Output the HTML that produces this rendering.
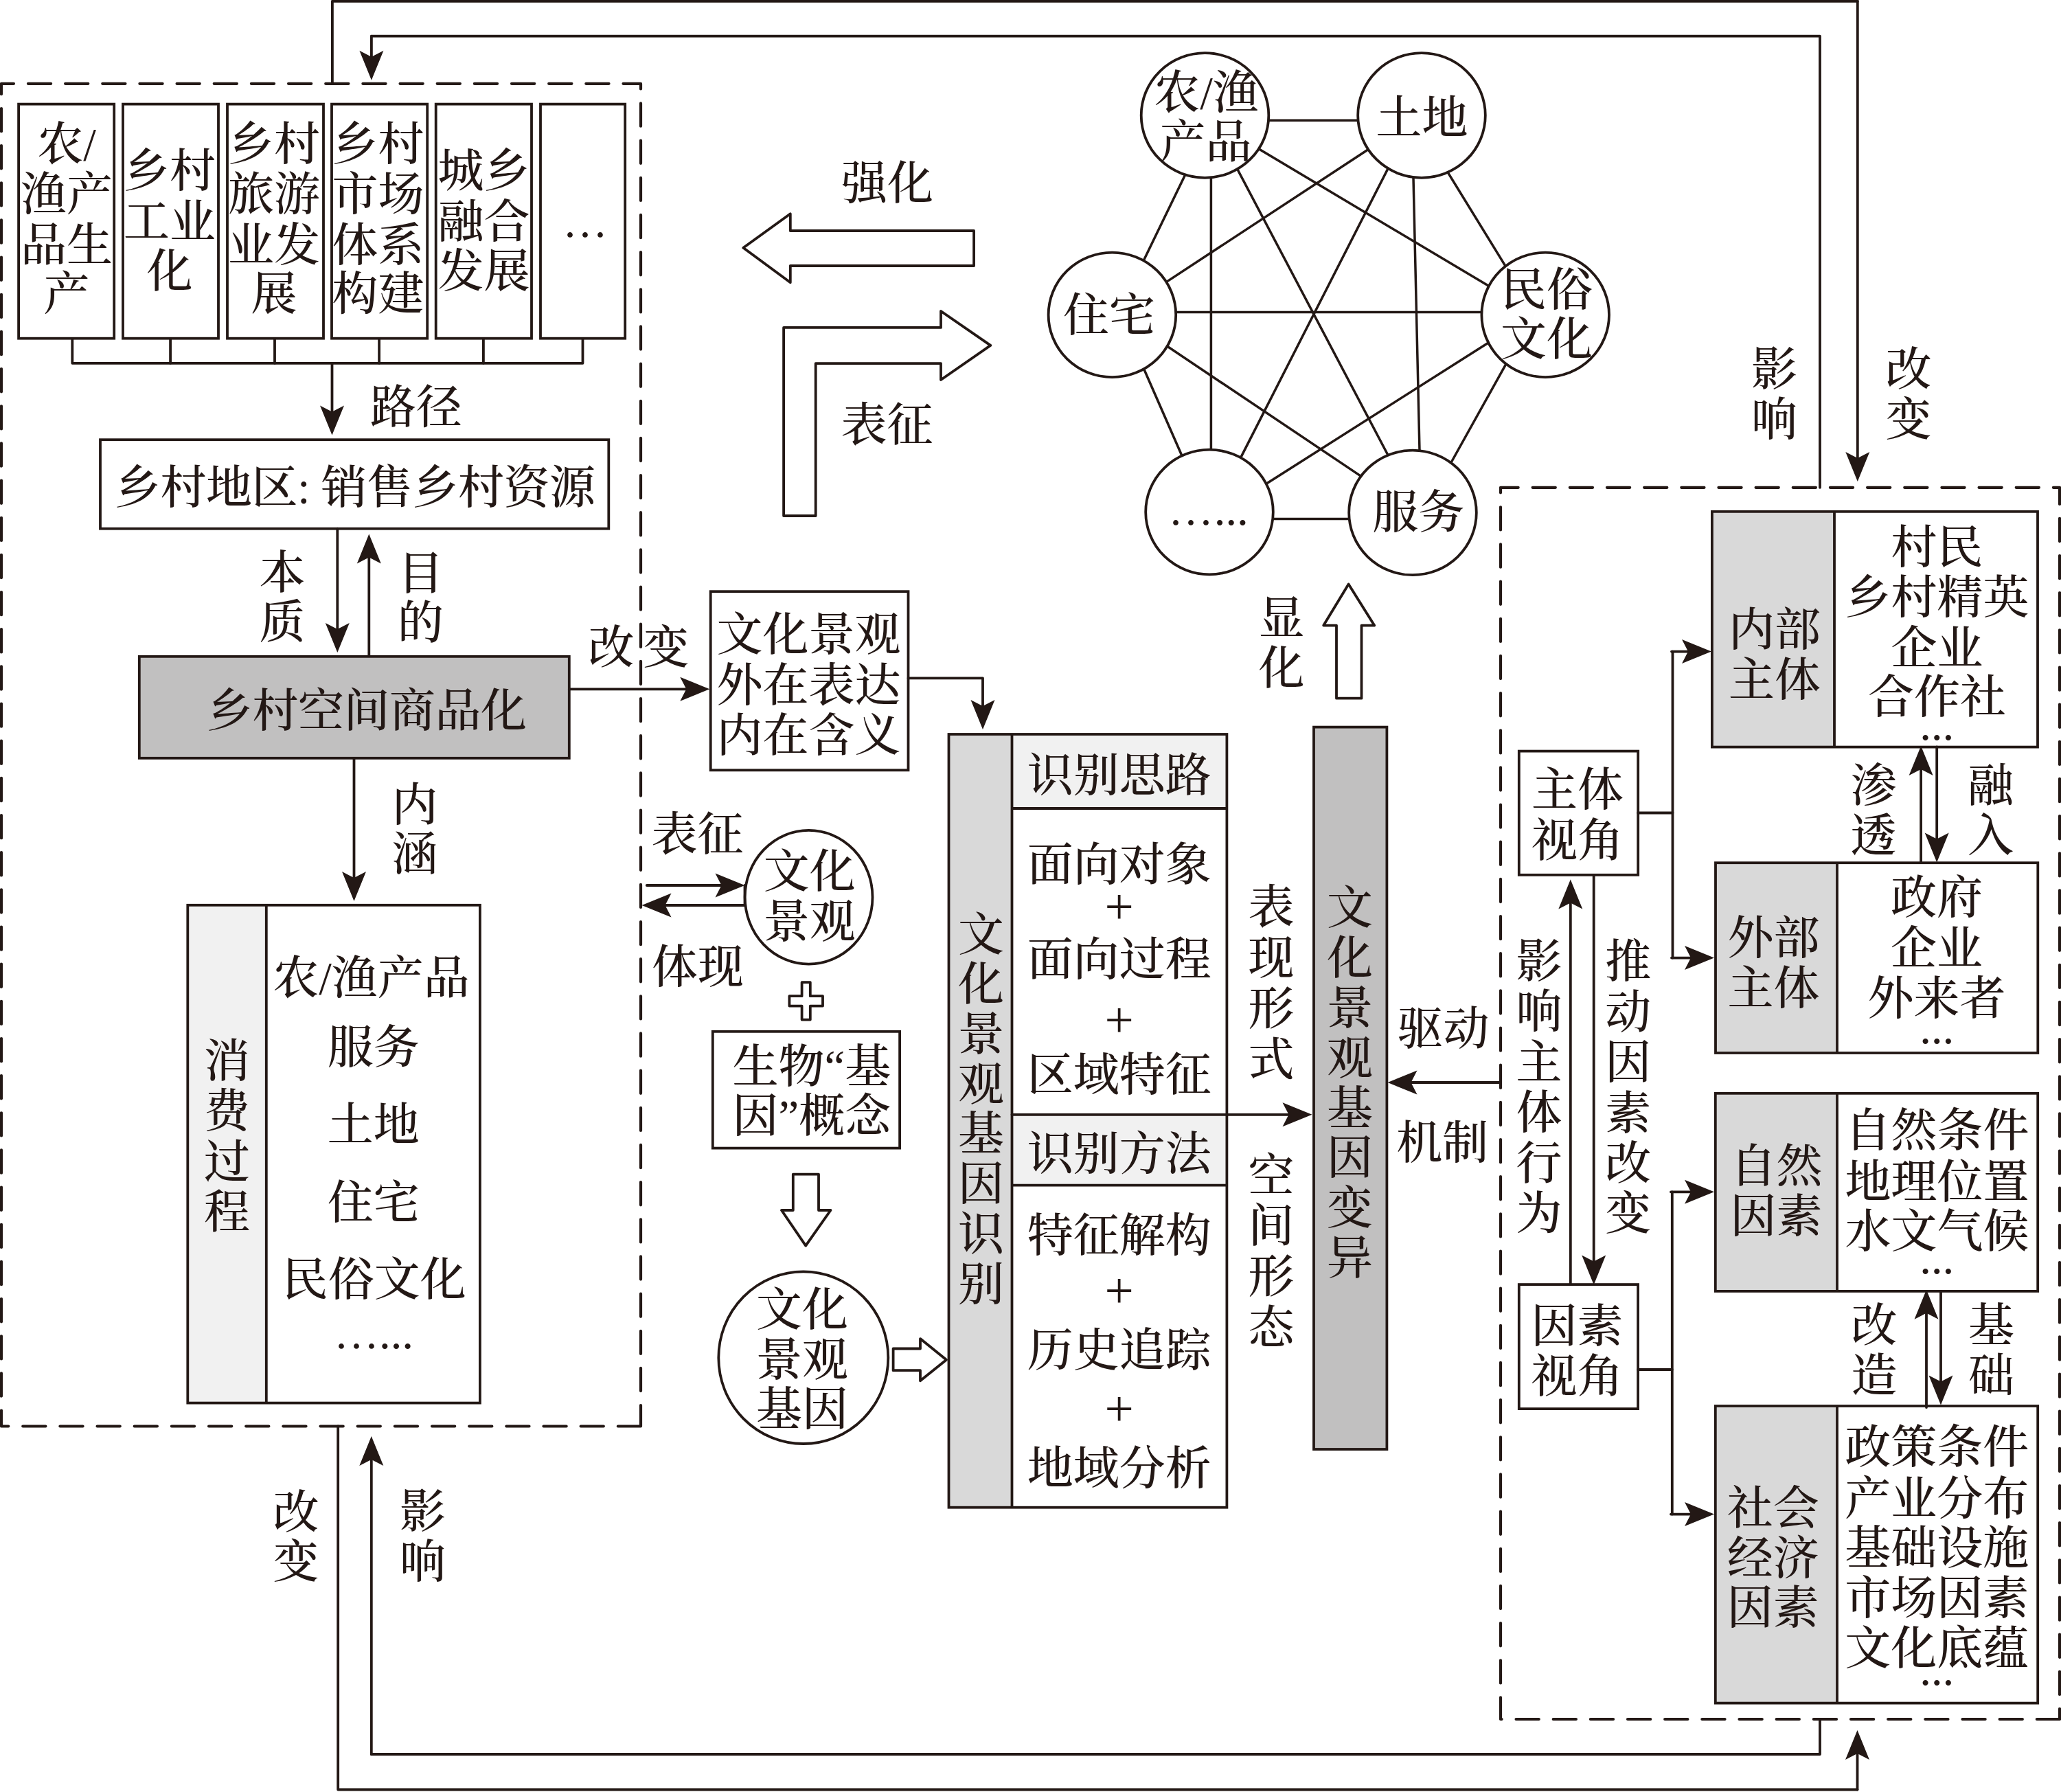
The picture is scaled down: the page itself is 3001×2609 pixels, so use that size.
<!DOCTYPE html>
<html lang="zh-CN"><head><meta charset="utf-8"><title>乡村空间商品化与文化景观基因</title>
<style>html,body{margin:0;padding:0;background:#fff}svg{display:block}text{font-family:"Liberation Serif","Noto Serif CJK SC",serif;fill:#231815;font-weight:500}.d1{font-family:"Noto Serif CJK SC",serif;font-weight:700}.d2{font-family:"Noto Sans CJK SC",sans-serif;font-weight:700}</style></head>
<body><svg width="3001" height="2609" viewBox="0 0 3001 2609">
<rect width="3001" height="2609" fill="#fff"/>
<path d="M933,2076.5 L2,2076.5 L2,121.8 L933,121.8 Z" fill="none" stroke="#231815" stroke-width="4.2" stroke-linecap="round" stroke-linejoin="round" stroke-dasharray="33.2 20.96"/>
<path d="M2999,2503 L2185,2503 L2185,709.8 L2999,709.8 Z" fill="none" stroke="#231815" stroke-width="4.2" stroke-linecap="round" stroke-linejoin="round" stroke-dasharray="33.2 20.96"/>
<polyline points="483.9,121.8 483.9,1.8 2704.8,1.8" fill="none" stroke="#231815" stroke-width="3.8" stroke-linecap="round" stroke-linejoin="round" />
<polyline points="2704.8,1.8 2704.8,667" fill="none" stroke="#231815" stroke-width="3.8" stroke-linecap="round" stroke-linejoin="round" />
<polygon points="2704.8,701 2687.3,658 2704.8,667 2722.3,658" fill="#231815"/>
<polyline points="2650,709.8 2650,52.7 540.9,52.7" fill="none" stroke="#231815" stroke-width="3.8" stroke-linecap="round" stroke-linejoin="round" />
<polyline points="540.9,52.7 540.9,82.8" fill="none" stroke="#231815" stroke-width="3.8" stroke-linecap="round" stroke-linejoin="round" />
<polygon points="540.9,116.8 523.4,73.8 540.9,82.8 558.4,73.8" fill="#231815"/>
<polyline points="492.2,2076.5 492.2,2605.5 2704.5,2605.5" fill="none" stroke="#231815" stroke-width="3.8" stroke-linecap="round" stroke-linejoin="round" />
<polyline points="2704.5,2605.5 2704.5,2553" fill="none" stroke="#231815" stroke-width="3.8" stroke-linecap="round" stroke-linejoin="round" />
<polygon points="2704.5,2519 2722,2562 2704.5,2553 2687,2562" fill="#231815"/>
<polyline points="2650,2503 2650,2554 540.8,2554" fill="none" stroke="#231815" stroke-width="3.8" stroke-linecap="round" stroke-linejoin="round" />
<polyline points="540.8,2554 540.8,2125" fill="none" stroke="#231815" stroke-width="3.8" stroke-linecap="round" stroke-linejoin="round" />
<polygon points="540.8,2091 558.3,2134 540.8,2125 523.3,2134" fill="#231815"/>
<rect x="27.1" y="151.6" width="139.1" height="341.1" fill="#fff" stroke="#231815" stroke-width="3.8"/>
<rect x="179" y="151.6" width="139" height="341.1" fill="#fff" stroke="#231815" stroke-width="3.8"/>
<rect x="331" y="151.6" width="140" height="341.1" fill="#fff" stroke="#231815" stroke-width="3.8"/>
<rect x="483" y="151.6" width="139.2" height="341.1" fill="#fff" stroke="#231815" stroke-width="3.8"/>
<rect x="634.7" y="151.6" width="139.3" height="341.1" fill="#fff" stroke="#231815" stroke-width="3.8"/>
<rect x="787" y="151.6" width="123.2" height="341.1" fill="#fff" stroke="#231815" stroke-width="3.8"/>
<polyline points="105.3,493 105.3,528.8 848.5,528.8 848.5,493" fill="none" stroke="#231815" stroke-width="3.8" stroke-linecap="round" stroke-linejoin="round" />
<polyline points="248.1,493 248.1,528.8" fill="none" stroke="#231815" stroke-width="3.8" stroke-linecap="round" stroke-linejoin="round" />
<polyline points="400,493 400,528.8" fill="none" stroke="#231815" stroke-width="3.8" stroke-linecap="round" stroke-linejoin="round" />
<polyline points="552.1,493 552.1,528.8" fill="none" stroke="#231815" stroke-width="3.8" stroke-linecap="round" stroke-linejoin="round" />
<polyline points="703.9,493 703.9,528.8" fill="none" stroke="#231815" stroke-width="3.8" stroke-linecap="round" stroke-linejoin="round" />
<polyline points="483.5,528.8 483.5,599.4" fill="none" stroke="#231815" stroke-width="3.8" stroke-linecap="round" stroke-linejoin="round" />
<polygon points="483.5,633.4 466,590.4 483.5,599.4 501,590.4" fill="#231815"/>
<text x="97" y="233.3" font-size="67" text-anchor="middle" >农/</text>
<text x="97" y="305.8" font-size="67" text-anchor="middle" >渔产</text>
<text x="97" y="379.8" font-size="67" text-anchor="middle" >品生</text>
<text x="97" y="450.8" font-size="67" text-anchor="middle" >产</text>
<text x="247" y="271.8" font-size="67" text-anchor="middle" >乡村</text>
<text x="247" y="345.8" font-size="67" text-anchor="middle" >工业</text>
<text x="247" y="417.8" font-size="67" text-anchor="middle" >化</text>
<text x="399" y="233.3" font-size="67" text-anchor="middle" >乡村</text>
<text x="399" y="305.8" font-size="67" text-anchor="middle" >旅游</text>
<text x="399" y="379.8" font-size="67" text-anchor="middle" >业发</text>
<text x="399" y="450.8" font-size="67" text-anchor="middle" >展</text>
<text x="550.5" y="233.3" font-size="67" text-anchor="middle" >乡村</text>
<text x="550.5" y="305.8" font-size="67" text-anchor="middle" >市场</text>
<text x="550.5" y="379.8" font-size="67" text-anchor="middle" >体系</text>
<text x="550.5" y="450.8" font-size="67" text-anchor="middle" >构建</text>
<text x="704.5" y="271.8" font-size="67" text-anchor="middle" >城乡</text>
<text x="704.5" y="345.8" font-size="67" text-anchor="middle" >融合</text>
<text x="704.5" y="417.8" font-size="67" text-anchor="middle" >发展</text>
<text x="852.1" y="367.4" font-size="66" text-anchor="middle" class="d1">…</text>
<text x="606.1" y="616" font-size="67" text-anchor="middle" >路径</text>
<rect x="146" y="640.2" width="740.3" height="129.5" fill="#fff" stroke="#231815" stroke-width="3.8"/>
<text x="517" y="733.3" font-size="67" text-anchor="middle" textLength="700" lengthAdjust="spacing" >乡村地区: 销售乡村资源</text>
<polyline points="491.3,769.7 491.3,916" fill="none" stroke="#231815" stroke-width="3.8" stroke-linecap="round" stroke-linejoin="round" />
<polygon points="491.3,950 473.8,907 491.3,916 508.8,907" fill="#231815"/>
<polyline points="537.3,956 537.3,811.5" fill="none" stroke="#231815" stroke-width="3.8" stroke-linecap="round" stroke-linejoin="round" />
<polygon points="537.3,777.5 554.8,820.5 537.3,811.5 519.8,820.5" fill="#231815"/>
<text font-size="67" text-anchor="middle"><tspan x="411" y="857.3">本</tspan><tspan x="411" y="929.3">质</tspan></text>
<text font-size="67" text-anchor="middle"><tspan x="612.5" y="857.8">目</tspan><tspan x="612.5" y="929.8">的</tspan></text>
<rect x="202.8" y="955.8" width="626" height="148" fill="#c1c0c0" stroke="#231815" stroke-width="3.8"/>
<text x="534" y="1057.8" font-size="67" text-anchor="middle" textLength="466" lengthAdjust="spacing" >乡村空间商品化</text>
<polyline points="829,1003.3 999.3,1003.3" fill="none" stroke="#231815" stroke-width="3.8" stroke-linecap="round" stroke-linejoin="round" />
<polygon points="1033.3,1003.3 990.3,1020.8 999.3,1003.3 990.3,985.8" fill="#231815"/>
<text font-size="67" text-anchor="middle"><tspan x="890" y="965.8">改</tspan><tspan x="970" y="965.8">变</tspan></text>
<polyline points="515.5,1104 515.5,1278" fill="none" stroke="#231815" stroke-width="3.8" stroke-linecap="round" stroke-linejoin="round" />
<polygon points="515.5,1312 498,1269 515.5,1278 533,1269" fill="#231815"/>
<text font-size="67" text-anchor="middle"><tspan x="604" y="1195.3">内</tspan><tspan x="604" y="1267.3">涵</tspan></text>
<rect x="273.3" y="1317.8" width="425.6" height="724.8" fill="#fff"/>
<rect x="273.3" y="1317.8" width="114.5" height="724.8" fill="#f1f1f1"/>
<rect x="273.3" y="1317.8" width="425.6" height="724.8" fill="none" stroke="#231815" stroke-width="3.8"/>
<polyline points="387.8,1317.8 387.8,2042.6" fill="none" stroke="#231815" stroke-width="3.8" stroke-linecap="butt" stroke-linejoin="round" />
<text font-size="67" text-anchor="middle"><tspan x="330.6" y="1567.5">消</tspan><tspan x="330.6" y="1641">费</tspan><tspan x="330.6" y="1714.5">过</tspan><tspan x="330.6" y="1788">程</tspan></text>
<text x="540.5" y="1446.8" font-size="67" text-anchor="middle" >农/渔产品</text>
<text x="543.7" y="1548.4" font-size="67" text-anchor="middle" >服务</text>
<text x="543.7" y="1660.8" font-size="67" text-anchor="middle" >土地</text>
<text x="543.7" y="1774.2" font-size="67" text-anchor="middle" >住宅</text>
<text x="544.7" y="1885.6" font-size="67" text-anchor="middle" >民俗文化</text>
<text text-anchor="middle"><tspan class="d1" font-size="66" x="518.9" y="1985.1">…</tspan><tspan class="d2" font-size="50" x="577" y="1979">…</tspan></text>
<text font-size="67" text-anchor="middle"><tspan x="431" y="2224.6">改</tspan><tspan x="431" y="2297.1">变</tspan></text>
<text font-size="67" text-anchor="middle"><tspan x="615.4" y="2224.4">影</tspan><tspan x="615.4" y="2296.8">响</tspan></text>
<rect x="1034.7" y="861.2" width="287.8" height="260.1" fill="#fff" stroke="#231815" stroke-width="3.8"/>
<text x="1177.4" y="947.3" font-size="67" text-anchor="middle" >文化景观</text>
<text x="1177.4" y="1020.7" font-size="67" text-anchor="middle" >外在表达</text>
<text x="1177.4" y="1093.5" font-size="67" text-anchor="middle" >内在含义</text>
<polyline points="1322.5,987.3 1431,987.3 1431,1028" fill="none" stroke="#231815" stroke-width="3.8" stroke-linecap="round" stroke-linejoin="round" />
<polygon points="1431,1062 1413.5,1019 1431,1028 1448.5,1019" fill="#231815"/>
<text x="1015.5" y="1237.9" font-size="67" text-anchor="middle" >表征</text>
<text x="1016" y="1431" font-size="67" text-anchor="middle" >体现</text>
<polyline points="941.8,1289 1050.5,1289" fill="none" stroke="#231815" stroke-width="3.8" stroke-linecap="round" stroke-linejoin="round" />
<polygon points="1084.5,1289 1041.5,1306.5 1050.5,1289 1041.5,1271.5" fill="#231815"/>
<polyline points="1084.5,1289 1084.5,1318" fill="none" stroke="#231815" stroke-width="3.8" stroke-linecap="round" stroke-linejoin="round" />
<polyline points="1084.5,1318 968.5,1318" fill="none" stroke="#231815" stroke-width="3.8" stroke-linecap="round" stroke-linejoin="round" />
<polygon points="934.5,1318 977.5,1300.5 968.5,1318 977.5,1335.5" fill="#231815"/>
<ellipse cx="1177.6" cy="1306.2" rx="92.9" ry="97.4" fill="#fff" stroke="#231815" stroke-width="3.8"/>
<text x="1178.8" y="1292.1" font-size="67" text-anchor="middle" >文化</text>
<text x="1178.8" y="1364.7" font-size="67" text-anchor="middle" >景观</text>
<polygon points="1167.6,1430.2 1179.8,1430.2 1179.8,1450.2 1198,1450.2 1198,1464.6 1179.8,1464.6 1179.8,1484.6 1167.6,1484.6 1167.6,1464.6 1149.4,1464.6 1149.4,1450.2 1167.6,1450.2" fill="#fff" stroke="#231815" stroke-width="3.8" stroke-linejoin="round"/>
<rect x="1037.8" y="1501.8" width="272.3" height="169.8" fill="#fff" stroke="#231815" stroke-width="3.8"/>
<text x="1066.5" y="1575.6" font-size="67" text-anchor="start" >生物“基</text>
<text x="1066.5" y="1648" font-size="67" text-anchor="start" >因”概念</text>
<polygon points="1154.8,1709.7 1192,1709.7 1192,1762 1209.5,1762 1173.2,1813.6 1138,1762 1154.8,1762" fill="#fff" stroke="#231815" stroke-width="3.8" stroke-linejoin="round"/>
<ellipse cx="1169.8" cy="1976.7" rx="123.5" ry="125.3" fill="#fff" stroke="#231815" stroke-width="3.8"/>
<text x="1168" y="1929.8" font-size="67" text-anchor="middle" >文化</text>
<text x="1168" y="2002.5" font-size="67" text-anchor="middle" >景观</text>
<text x="1168" y="2075.2" font-size="67" text-anchor="middle" >基因</text>
<polygon points="1300.6,1963.5 1340,1963.5 1340,1949.1 1378,1979.8 1340,2010.3 1340,1995.2 1300.6,1995.2" fill="#fff" stroke="#231815" stroke-width="3.8" stroke-linejoin="round"/>
<rect x="1381.5" y="1069" width="92" height="1125.7" fill="#d9d9d9"/>
<rect x="1473.5" y="1069" width="312.9" height="108" fill="#f1f1f1"/>
<rect x="1473.5" y="1622.6" width="312.9" height="103" fill="#f1f1f1"/>
<rect x="1381.5" y="1069" width="404.9" height="1125.7" fill="none" stroke="#231815" stroke-width="3.8"/>
<polyline points="1473.5,1069 1473.5,2194.7" fill="none" stroke="#231815" stroke-width="3.8" stroke-linecap="butt" stroke-linejoin="round" />
<polyline points="1473.5,1177 1786.4,1177" fill="none" stroke="#231815" stroke-width="3.8" stroke-linecap="butt" stroke-linejoin="round" />
<polyline points="1473.5,1725.6 1786.4,1725.6" fill="none" stroke="#231815" stroke-width="3.8" stroke-linecap="butt" stroke-linejoin="round" />
<polyline points="1473.5,1622.8 1876.5,1622.8" fill="none" stroke="#231815" stroke-width="3.8" stroke-linecap="round" stroke-linejoin="round" />
<polygon points="1910.5,1622.8 1867.5,1640.3 1876.5,1622.8 1867.5,1605.3" fill="#231815"/>
<text font-size="67" text-anchor="middle"><tspan x="1428.5" y="1383.6">文</tspan><tspan x="1428.5" y="1456.3">化</tspan><tspan x="1428.5" y="1529">景</tspan><tspan x="1428.5" y="1601.7">观</tspan><tspan x="1428.5" y="1674.4">基</tspan><tspan x="1428.5" y="1747.1">因</tspan><tspan x="1428.5" y="1819.8">识</tspan><tspan x="1428.5" y="1892.5">别</tspan></text>
<text x="1629.8" y="1151.8" font-size="67" text-anchor="middle" >识别思路</text>
<text x="1629.8" y="1702.8" font-size="67" text-anchor="middle" >识别方法</text>
<text x="1629.7" y="1281.8" font-size="67" text-anchor="middle" >面向对象</text>
<text x="1629.7" y="1419.8" font-size="67" text-anchor="middle" >面向过程</text>
<text x="1629.7" y="1587.5" font-size="67" text-anchor="middle" >区域特征</text>
<text x="1629.7" y="1821.8" font-size="67" text-anchor="middle" >特征解构</text>
<text x="1629.7" y="1988.8" font-size="67" text-anchor="middle" >历史追踪</text>
<text x="1629.7" y="2161.4" font-size="67" text-anchor="middle" >地域分析</text>
<text x="1629.7" y="1344.5" font-size="75" font-weight="400" text-anchor="middle">+</text>
<text x="1629.7" y="1509.5" font-size="75" font-weight="400" text-anchor="middle">+</text>
<text x="1629.7" y="1903.5" font-size="75" font-weight="400" text-anchor="middle">+</text>
<text x="1629.7" y="2076.1" font-size="75" font-weight="400" text-anchor="middle">+</text>
<text font-size="67" text-anchor="middle"><tspan x="1851" y="1343.8">表</tspan><tspan x="1851" y="1417.8">现</tspan><tspan x="1851" y="1491.8">形</tspan><tspan x="1851" y="1565.6">式</tspan></text>
<text font-size="67" text-anchor="middle"><tspan x="1851" y="1734.5">空</tspan><tspan x="1851" y="1808.4">间</tspan><tspan x="1851" y="1882.3">形</tspan><tspan x="1851" y="1956.2">态</tspan></text>
<rect x="1913" y="1058.6" width="106.4" height="1051.4" fill="#c1c0c0" stroke="#231815" stroke-width="3.8"/>
<text font-size="67" text-anchor="middle"><tspan x="1965.5" y="1344.9">文</tspan><tspan x="1965.5" y="1417.8">化</tspan><tspan x="1965.5" y="1490.7">景</tspan><tspan x="1965.5" y="1563.6">观</tspan><tspan x="1965.5" y="1636.5">基</tspan><tspan x="1965.5" y="1709.4">因</tspan><tspan x="1965.5" y="1782.3">变</tspan><tspan x="1965.5" y="1855.2">异</tspan></text>
<polygon points="1963.6,850.4 2001.2,910.6 1982.5,910.6 1982.5,1016.7 1946,1016.7 1946,910.6 1927.2,910.6" fill="#fff" stroke="#231815" stroke-width="3.8" stroke-linejoin="round"/>
<text font-size="67" text-anchor="middle"><tspan x="1866" y="923.5">显</tspan><tspan x="1866" y="995.6">化</tspan></text>
<polyline points="2185,1576 2054.5,1576" fill="none" stroke="#231815" stroke-width="3.8" stroke-linecap="round" stroke-linejoin="round" />
<polygon points="2020.5,1576 2063.5,1558.5 2054.5,1576 2063.5,1593.5" fill="#231815"/>
<text x="2101.4" y="1521.3" font-size="67" text-anchor="middle" >驱动</text>
<text x="2100.2" y="1686.9" font-size="67" text-anchor="middle" >机制</text>
<polygon points="1082.3,360.8 1150.8,311.3 1150.8,336 1418.1,336 1418.1,387 1150.8,387 1150.8,411.3" fill="#fff" stroke="#231815" stroke-width="3.8" stroke-linejoin="round"/>
<polygon points="1141.1,751 1141.1,476.9 1370,476.9 1370,453 1442.3,502.9 1370,553 1370,529.1 1187.7,529.1 1187.7,751" fill="#fff" stroke="#231815" stroke-width="3.8" stroke-linejoin="round"/>
<text x="1292" y="289.8" font-size="67" text-anchor="middle" >强化</text>
<text x="1291.5" y="642.1" font-size="67" text-anchor="middle" >表征</text>
<polyline points="1729.8,246.1 1660.9,388.2" fill="none" stroke="#231815" stroke-width="3.5" stroke-linecap="round" stroke-linejoin="round" />
<polyline points="1763.4,245.9 1763.4,668.8" fill="none" stroke="#231815" stroke-width="3.5" stroke-linecap="round" stroke-linejoin="round" />
<polyline points="1796.6,236.5 2025.7,671.5" fill="none" stroke="#231815" stroke-width="3.5" stroke-linecap="round" stroke-linejoin="round" />
<polyline points="1822.8,210.8 2178.1,422.6" fill="none" stroke="#231815" stroke-width="3.5" stroke-linecap="round" stroke-linejoin="round" />
<polyline points="2000,212.5 1690.6,415.6" fill="none" stroke="#231815" stroke-width="3.5" stroke-linecap="round" stroke-linejoin="round" />
<polyline points="2025.6,236.4 1801.2,676.9" fill="none" stroke="#231815" stroke-width="3.5" stroke-linecap="round" stroke-linejoin="round" />
<polyline points="2057.7,245.9 2067.3,668.7" fill="none" stroke="#231815" stroke-width="3.5" stroke-linecap="round" stroke-linejoin="round" />
<polyline points="2101.5,240.1 2197.6,396.4" fill="none" stroke="#231815" stroke-width="3.5" stroke-linecap="round" stroke-linejoin="round" />
<polyline points="1689.3,497.2 1993.7,701.4" fill="none" stroke="#231815" stroke-width="3.5" stroke-linecap="round" stroke-linejoin="round" />
<polyline points="1661.4,527.5 1725.7,674.2" fill="none" stroke="#231815" stroke-width="3.5" stroke-linecap="round" stroke-linejoin="round" />
<polyline points="2178.7,491.7 1833.3,710.9" fill="none" stroke="#231815" stroke-width="3.5" stroke-linecap="round" stroke-linejoin="round" />
<polyline points="2198.4,520.1 2107.9,682.5" fill="none" stroke="#231815" stroke-width="3.5" stroke-linecap="round" stroke-linejoin="round" />
<polyline points="1834.1,175.2 1990.4,175.2" fill="none" stroke="#231815" stroke-width="3.5" stroke-linecap="round" stroke-linejoin="round" />
<polyline points="1699.3,454.6 2170.4,454.6" fill="none" stroke="#231815" stroke-width="3.5" stroke-linecap="round" stroke-linejoin="round" />
<polyline points="1840.8,755.5 1977.1,755.5" fill="none" stroke="#231815" stroke-width="3.5" stroke-linecap="round" stroke-linejoin="round" />
<ellipse cx="1754.5" cy="168" rx="92.8" ry="90.8" fill="#fff" stroke="#231815" stroke-width="3.8"/>
<ellipse cx="2070" cy="168" rx="92.8" ry="90.8" fill="#fff" stroke="#231815" stroke-width="3.8"/>
<ellipse cx="2250.2" cy="458.4" rx="92.8" ry="90.8" fill="#fff" stroke="#231815" stroke-width="3.8"/>
<ellipse cx="2057" cy="746.4" rx="92.8" ry="90.8" fill="#fff" stroke="#231815" stroke-width="3.8"/>
<ellipse cx="1761" cy="745.5" rx="92.8" ry="90.8" fill="#fff" stroke="#231815" stroke-width="3.8"/>
<ellipse cx="1619.4" cy="458.4" rx="92.8" ry="90.8" fill="#fff" stroke="#231815" stroke-width="3.8"/>
<text x="1756.5" y="157.7" font-size="67" text-anchor="middle" >农/渔</text>
<text x="1755.5" y="229.6" font-size="67" text-anchor="middle" >产品</text>
<text x="2070.5" y="195" font-size="67" text-anchor="middle" >土地</text>
<text x="2252" y="444.5" font-size="67" text-anchor="middle" >民俗</text>
<text x="2252" y="517.3" font-size="67" text-anchor="middle" >文化</text>
<text x="2065.2" y="769.1" font-size="67" text-anchor="middle" >服务</text>
<text text-anchor="middle"><tspan class="d1" font-size="66" x="1734.1" y="786.3">…</tspan><tspan class="d2" font-size="50" x="1792.8" y="780.1">…</tspan></text>
<text x="1615" y="481.8" font-size="67" text-anchor="middle" >住宅</text>
<text font-size="67" text-anchor="middle"><tspan x="2583.5" y="561">影</tspan><tspan x="2583.5" y="633.6">响</tspan></text>
<text font-size="67" text-anchor="middle"><tspan x="2779" y="561">改</tspan><tspan x="2779" y="633.9">变</tspan></text>
<rect x="2211.8" y="1093.6" width="173.4" height="180.2" fill="#fff" stroke="#231815" stroke-width="3.8"/>
<text x="2297" y="1173.2" font-size="67" text-anchor="middle" >主体</text>
<text x="2297" y="1246.8" font-size="67" text-anchor="middle" >视角</text>
<polyline points="2385.2,1183.5 2435.5,1183.5" fill="none" stroke="#231815" stroke-width="3.8" stroke-linecap="round" stroke-linejoin="round" />
<polyline points="2435.5,948.6 2435.5,1394.6" fill="none" stroke="#231815" stroke-width="3.8" stroke-linecap="round" stroke-linejoin="round" />
<polyline points="2434,948.6 2458,948.6" fill="none" stroke="#231815" stroke-width="3.8" stroke-linecap="round" stroke-linejoin="round" />
<polygon points="2492,948.6 2449,966.1 2458,948.6 2449,931.1" fill="#231815"/>
<polyline points="2434,1394.6 2462,1394.6" fill="none" stroke="#231815" stroke-width="3.8" stroke-linecap="round" stroke-linejoin="round" />
<polygon points="2496,1394.6 2453,1412.1 2462,1394.6 2453,1377.1" fill="#231815"/>
<rect x="2492.9" y="744.8" width="178.1" height="342.8" fill="#d9d9d9"/>
<rect x="2671" y="744.8" width="296" height="342.8" fill="#fff"/>
<rect x="2492.9" y="744.8" width="474.1" height="342.8" fill="none" stroke="#231815" stroke-width="3.8"/>
<polyline points="2671,744.8 2671,1087.6" fill="none" stroke="#231815" stroke-width="3.8" stroke-linecap="butt" stroke-linejoin="round" />
<text x="2584" y="940.2" font-size="67" text-anchor="middle" >内部</text>
<text x="2584" y="1012.5" font-size="67" text-anchor="middle" >主体</text>
<text x="2820.5" y="819.5" font-size="67" text-anchor="middle" >村民</text>
<text x="2820.5" y="892.5" font-size="67" text-anchor="middle" >乡村精英</text>
<text x="2820.5" y="966.7" font-size="67" text-anchor="middle" >企业</text>
<text x="2820.5" y="1037.9" font-size="67" text-anchor="middle" >合作社</text>
<rect x="2498" y="1256.2" width="177" height="276.8" fill="#d9d9d9"/>
<rect x="2675" y="1256.2" width="292.3" height="276.8" fill="#fff"/>
<rect x="2498" y="1256.2" width="469.3" height="276.8" fill="none" stroke="#231815" stroke-width="3.8"/>
<polyline points="2675,1256.2 2675,1533" fill="none" stroke="#231815" stroke-width="3.8" stroke-linecap="butt" stroke-linejoin="round" />
<text x="2582.5" y="1388.8" font-size="67" text-anchor="middle" >外部</text>
<text x="2582.5" y="1461.8" font-size="67" text-anchor="middle" >主体</text>
<text x="2820" y="1330.2" font-size="67" text-anchor="middle" >政府</text>
<text x="2820" y="1404.4" font-size="67" text-anchor="middle" >企业</text>
<text x="2820" y="1477.4" font-size="67" text-anchor="middle" >外来者</text>
<polyline points="2797.1,1256 2797.1,1120" fill="none" stroke="#231815" stroke-width="3.8" stroke-linecap="round" stroke-linejoin="round" />
<polygon points="2797.1,1086 2814.6,1129 2797.1,1120 2779.6,1129" fill="#231815"/>
<polyline points="2820.2,1087.5 2820.2,1221.5" fill="none" stroke="#231815" stroke-width="3.8" stroke-linecap="round" stroke-linejoin="round" />
<polygon points="2820.2,1255.5 2802.7,1212.5 2820.2,1221.5 2837.7,1212.5" fill="#231815"/>
<text font-size="67" text-anchor="middle"><tspan x="2728" y="1166.9">渗</tspan><tspan x="2728" y="1239.9">透</tspan></text>
<text font-size="67" text-anchor="middle"><tspan x="2898.4" y="1166.9">融</tspan><tspan x="2898.4" y="1240.3">入</tspan></text>
<rect x="2497.8" y="1591.8" width="177.2" height="288.1" fill="#d9d9d9"/>
<rect x="2675" y="1591.8" width="292.2" height="288.1" fill="#fff"/>
<rect x="2497.8" y="1591.8" width="469.4" height="288.1" fill="none" stroke="#231815" stroke-width="3.8"/>
<polyline points="2675,1591.8 2675,1879.9" fill="none" stroke="#231815" stroke-width="3.8" stroke-linecap="butt" stroke-linejoin="round" />
<text x="2586.4" y="1721.3" font-size="67" text-anchor="middle" >自然</text>
<text x="2586.4" y="1793.8" font-size="67" text-anchor="middle" >因素</text>
<text x="2820.4" y="1669.3" font-size="67" text-anchor="middle" >自然条件</text>
<text x="2820.4" y="1743.6" font-size="67" text-anchor="middle" >地理位置</text>
<text x="2820.4" y="1816.1" font-size="67" text-anchor="middle" >水文气候</text>
<rect x="2497.8" y="2047" width="177.2" height="432.6" fill="#d9d9d9"/>
<rect x="2675" y="2047" width="292.2" height="432.6" fill="#fff"/>
<rect x="2497.8" y="2047" width="469.4" height="432.6" fill="none" stroke="#231815" stroke-width="3.8"/>
<polyline points="2675,2047 2675,2479.6" fill="none" stroke="#231815" stroke-width="3.8" stroke-linecap="butt" stroke-linejoin="round" />
<text x="2581.8" y="2218.8" font-size="67" text-anchor="middle" >社会</text>
<text x="2581.8" y="2291.8" font-size="67" text-anchor="middle" >经济</text>
<text x="2581.8" y="2364.3" font-size="67" text-anchor="middle" >因素</text>
<text x="2820.2" y="2129.7" font-size="67" text-anchor="middle" >政策条件</text>
<text x="2820.2" y="2204.5" font-size="67" text-anchor="middle" >产业分布</text>
<text x="2820.2" y="2277.4" font-size="67" text-anchor="middle" >基础设施</text>
<text x="2820.2" y="2350" font-size="67" text-anchor="middle" >市场因素</text>
<text x="2820.2" y="2422.9" font-size="67" text-anchor="middle" >文化底蕴</text>
<text x="2820.2" y="1093.2" font-size="50" text-anchor="middle" class="d2">…</text>
<text x="2820.2" y="1535" font-size="50" text-anchor="middle" class="d2">…</text>
<text x="2820.2" y="1869.8" font-size="50" text-anchor="middle" class="d2">…</text>
<text x="2820.2" y="2469.2" font-size="50" text-anchor="middle" class="d2">…</text>
<polyline points="2805,2049 2805,1911.8" fill="none" stroke="#231815" stroke-width="3.8" stroke-linecap="round" stroke-linejoin="round" />
<polygon points="2805,1877.8 2822.5,1920.8 2805,1911.8 2787.5,1920.8" fill="#231815"/>
<polyline points="2826,1880 2826,2011.5" fill="none" stroke="#231815" stroke-width="3.8" stroke-linecap="round" stroke-linejoin="round" />
<polygon points="2826,2045.5 2808.5,2002.5 2826,2011.5 2843.5,2002.5" fill="#231815"/>
<text font-size="67" text-anchor="middle"><tspan x="2728.9" y="1952.9">改</tspan><tspan x="2728.9" y="2025.5">造</tspan></text>
<text font-size="67" text-anchor="middle"><tspan x="2899.4" y="1953.2">基</tspan><tspan x="2899.4" y="2025.8">础</tspan></text>
<rect x="2211.8" y="1870.1" width="173.3" height="181" fill="#fff" stroke="#231815" stroke-width="3.8"/>
<text x="2296.5" y="1953.8" font-size="67" text-anchor="middle" >因素</text>
<text x="2296.5" y="2026.8" font-size="67" text-anchor="middle" >视角</text>
<polyline points="2286.8,1870.1 2286.8,1314.4" fill="none" stroke="#231815" stroke-width="3.8" stroke-linecap="round" stroke-linejoin="round" />
<polygon points="2286.8,1280.4 2304.3,1323.4 2286.8,1314.4 2269.3,1323.4" fill="#231815"/>
<polyline points="2320.7,1274 2320.7,1836.5" fill="none" stroke="#231815" stroke-width="3.8" stroke-linecap="round" stroke-linejoin="round" />
<polygon points="2320.7,1870.5 2303.2,1827.5 2320.7,1836.5 2338.2,1827.5" fill="#231815"/>
<polyline points="2385.1,1994 2434.8,1994" fill="none" stroke="#231815" stroke-width="3.8" stroke-linecap="round" stroke-linejoin="round" />
<polyline points="2434.8,1735.3 2434.8,2204.6" fill="none" stroke="#231815" stroke-width="3.8" stroke-linecap="round" stroke-linejoin="round" />
<polyline points="2433,1735.3 2462,1735.3" fill="none" stroke="#231815" stroke-width="3.8" stroke-linecap="round" stroke-linejoin="round" />
<polygon points="2496,1735.3 2453,1752.8 2462,1735.3 2453,1717.8" fill="#231815"/>
<polyline points="2433,2204.6 2462,2204.6" fill="none" stroke="#231815" stroke-width="3.8" stroke-linecap="round" stroke-linejoin="round" />
<polygon points="2496,2204.6 2453,2222.1 2462,2204.6 2453,2187.1" fill="#231815"/>
<text font-size="67" text-anchor="middle"><tspan x="2241" y="1422.6">影</tspan><tspan x="2241" y="1496.1">响</tspan><tspan x="2241" y="1569.6">主</tspan><tspan x="2241" y="1643.1">体</tspan><tspan x="2241" y="1716.6">行</tspan><tspan x="2241" y="1790.1">为</tspan></text>
<text font-size="67" text-anchor="middle"><tspan x="2370.8" y="1423.3">推</tspan><tspan x="2370.8" y="1496.7">动</tspan><tspan x="2370.8" y="1570.1">因</tspan><tspan x="2370.8" y="1643.5">素</tspan><tspan x="2370.8" y="1716.9">改</tspan><tspan x="2370.8" y="1790.3">变</tspan></text>
</svg></body></html>
